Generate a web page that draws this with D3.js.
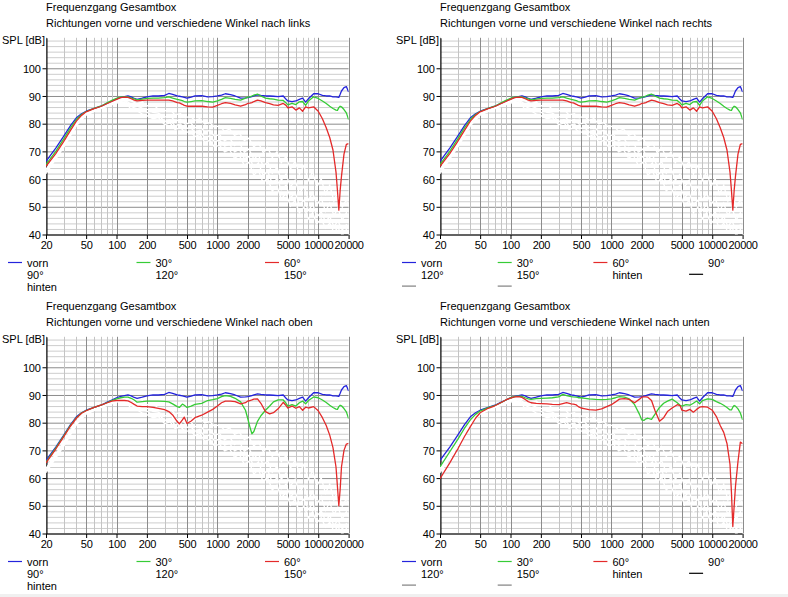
<!DOCTYPE html>
<html>
<head>
<meta charset="utf-8">
<script src="https://d3js.org/d3.v7.min.js"></script>
<style>
    body { margin: 0; background: #fff; }
    svg { display: block; }
    text { font-family: "Liberation Sans", Arial, sans-serif; font-size: 11px; fill: #000; }
    .tick text { letter-spacing: -0.3px; }
</style>
</head>
<body>
<svg id="chart"></svg>
<script>
var W = 788, H = 597;

// frequency points of the coloured curves (Hz)
var freq = [20,25,30,35,40,45,50,60,70,80,90,100,110,120,130,140,150,160,180,200,
    230,260,300,330,360,400,420,450,470,500,550,600,700,800,900,1000,1100,1200,1350,1500,
    1700,1900,2000,2100,2200,2300,2500,2700,3000,3300,3600,4000,4500,4800,5000,5500,6000,6500,7000,7500,
    8000,9000,10000,11000,12000,13000,14000,15000,15500,16000,16500,17000,18000,19000,20000];

// SPL in dB
var vorn = [66.4,71.2,75.5,79.3,82.1,83.6,84.5,85.5,86.3,87.3,88.2,89,89.5,89.8,90,89.7,89.1,88.8,89.2,89.7,
    90,90,90.2,90.9,90.6,90,89.9,89.7,89.5,89.2,89.6,90,90.1,89.7,89.8,90,90.3,90.8,90.5,90,
    89.2,89.3,89.4,89.6,89.8,90,90.4,90.2,90,90,89.9,89.8,90,88.8,88.2,88,88.2,88.8,89.2,87.8,
    89,90.8,90.8,90.2,90,90,89.7,89.7,89.6,89.5,90.6,91.8,93,93.4,91.4];

var links30 = [65.2,70,74.5,78.5,81.5,83.3,84.4,85.5,86.3,87.4,88.4,89.1,89.6,89.7,89.7,89.2,89,88.6,88.9,89.1,
    89.2,89.2,89.4,89.7,89.2,88.8,88.6,88.3,88,87.8,88,88.2,88.3,88,87.8,88.2,88.8,89.4,89.1,88.8,
    88.5,89.2,89.6,89.7,90,90.3,90.7,90,89.2,89,88.9,88.5,88.4,87.5,86.8,87.3,86.9,87.9,88,86.6,
    88.2,89.7,89.1,88.2,87.3,86.3,85.5,84.9,84.8,85.8,86.3,86.1,85.1,83.9,81.5];
var links60 = [64.6,69.2,73.6,77.6,80.9,83,84.3,85.4,86.2,87.2,88,88.8,89.4,89.6,89.5,89,88.5,88.2,88.4,88.5,
    88.5,88.5,88.5,88.5,88.2,87.6,87.5,87,86.6,86.3,86.3,86.3,86.3,86.1,86,86.6,87.2,87.6,87.3,86.8,
    86.3,86.9,87.3,87.4,87.6,88,88.5,88.2,87.6,87.2,86.8,86.6,87.3,86.6,85.7,86.1,84.9,85.7,84.5,86.1,
    85.7,86.1,84.5,81.8,78.5,75,70.5,62.5,56,48.8,56,61,69,72.5,72.8];

var oben30 = [65.8,70.8,75.2,79,81.8,83.5,84.4,85.5,86.3,87.2,88,88.6,89,89.2,89.2,88.8,88.2,87.4,87.6,87.8,
    87.8,87.8,87.7,87.5,86.8,85.8,85.5,86.7,86.3,85.5,86,86.6,87,88,88.3,88.7,89.4,89.8,89.5,88.8,
    87.5,84.5,81.5,78.5,76,76.8,80.5,82.5,84.5,86,87.5,88.2,88.2,87,86,86.5,86,87.2,87.8,86.8,
    88,89.3,89,88.2,87.3,86.3,85.5,84.9,84.8,85.8,86.3,86.1,85.1,83.9,81.5];
var oben60 = [65.5,70.5,75,78.8,81.6,83.4,84.3,85.5,86.3,87.1,87.8,88,88,88,87.9,87.3,86.6,86,85.8,85.8,
    85.5,85.2,84.7,84,82.8,80.4,79.6,81,82,79.7,80.6,81.8,82.7,83.8,84.8,86,87.2,87.8,87.8,87.6,
    86.8,87.2,87.8,88,88.2,88.5,88.6,87,84,83.2,83.6,85,87.3,86.2,85.3,86,85.2,85.8,84.5,85.6,
    85.3,85.8,84.3,81.8,79,75.5,71,64,57,50,56,64,70,72.3,72.5];

var unten30 = [64,69.5,74,78,81,83,84.2,85.4,86.2,87.2,88.2,89,89.4,89.6,89.5,89,88.6,88.4,88.7,88.8,
    88.9,89,89.3,90.2,89.8,89.4,89.3,89.2,89,89,88.8,88.6,88.4,88.3,88.4,88.6,89,89.4,89.2,88.6,
    86.5,83,81,80.8,81.4,81.6,81.2,83,85.5,87,87.8,88.5,87.2,86.3,86,86.5,86.3,87,87.8,86.8,
    88,88.6,88.4,87.6,87,86.3,85.5,84.6,84.6,85.6,86.2,86,85,83.5,81];
var unten60 = [59.8,65.5,70.5,75,78.6,81.6,83.6,85.2,86.1,87.2,88.2,88.9,89.3,89.4,89.1,88.4,87.6,87.2,87,86.9,
    86.8,86.6,86.5,86.9,87.2,86.8,86.7,86.4,85.8,85.3,85,84.7,84.5,85,85.8,86.5,87.5,88.5,88.7,88.4,
    87.2,88.5,89.2,89.3,89.3,89.2,88,84.5,80.5,81.8,84,85.3,86.5,86.2,84.5,84.2,84.8,83.8,84.8,85.6,
    85.8,85.6,84.5,82.2,79,76.5,72.5,65,55,42.5,50,57,66,73,72.4];

// the 90°, 120°, 150° and "hinten" curves are drawn in white in the original
var freqW = [20,30,40,50,70,100,120,140,160,180,200,230,260,300,340,380,430,480,540,600,
    670,750,840,940,1050,1180,1320,1480,1650,1850,2050,2300,2550,2850,3150,3500,3900,4300,4800,5300,
    5900,6500,7200,8000,8800,9700,10700,11800,13000,14300,15700,17300,19000,20000];
var w90 = [63.5,73,80.5,84,86,88.3,89,88.2,87.2,87.8,86.4,86.9,85.2,84.6,85.1,83.2,83.6,82.1,82.7,81.2,
    81.8,79.9,80.4,78.6,79.3,77.2,78.1,75.8,76.6,73.9,74.8,71.6,73.2,69.5,71.4,67.8,69.9,65.9,68.2,63.6,
    66.4,61.8,64.9,59.5,62.8,57.2,60.1,54.6,57.8,52.1,55.4,49.8,52.6,50.2];
var w120 = [63,72.5,80,83.7,85.8,88,88.6,87,86.3,85.6,85.2,84.1,83.8,82.4,83,80.9,81.5,79.8,80.4,78.5,
    79.2,76.9,77.6,75.4,76.1,73.8,74.9,72.1,73.2,69.7,70.9,67.2,68.8,64.6,66.3,62.1,64.2,59.5,61.8,57.1,
    59.6,54.8,57.3,52.4,55.1,50.6,53.2,48.4,51.3,46.8,49.5,45.2,47.9,46];
var w150 = [62.5,72,79.6,83.4,85.6,87.7,88.2,86.1,85.4,84.9,84.2,82.6,83.1,80.8,81.4,79.2,79.9,78.1,78.7,76.9,
    77.6,74.8,75.6,73.4,74.1,71.9,72.6,69.8,70.7,67.4,68.2,64.2,65.8,61.3,62.9,58.4,60.1,56.2,57.8,53.1,
    55.2,50.6,52.4,48.7,50.9,46.3,48.2,44.6,46.5,42.9,44.8,41.6,43.5,42.8];
var wHinten = [62,71.5,79.2,83.1,85.4,87.4,87.8,85.2,84.6,83.5,82.9,81.8,82.2,79.6,80.3,77.9,78.6,76.8,77.2,75.3,
    76.1,73.2,74,71.5,72.3,69.8,70.6,67.5,68.6,64.9,66.1,61.4,63.2,58.6,60.3,55.7,57.4,52.8,54.9,50.2,
    52.3,47.8,49.9,45.6,47.8,43.9,45.7,42.3,44.1,40.8,42.5,39.6,41.8,40.5];

var xTicks = [20,50,100,200,500,1000,2000,5000,10000,20000];
var yTicks = [40,50,60,70,80,90,100];
var yGrid = d3.range(40, 111, 2);

var title = "Frequenzgang Gesamtbox";
var subtitles = [
    "Richtungen vorne und verschiedene Winkel nach links",
    "Richtungen vorne und verschiedene Winkel nach rechts",
    "Richtungen vorne und verschiedene Winkel nach oben",
    "Richtungen vorne und verschiedene Winkel nach unten"
];
var names = ["vorn", "30\u00b0", "60\u00b0", "90\u00b0", "120\u00b0", "150\u00b0", "hinten"];
var colors = ["#2424dc", "#36cc36", "#e42a2a", "#fff", "#fff", "#fff", "#fff"];
var extraNames = ["", "", ""];
var extraColors = ["#000", "#808080", "#808080"];

var panels = [
    { x: 0,   y: 0,   sub: subtitles[0], c30: links30, c60: links60, cols: 3, step: 128.5, extra: false },
    { x: 394, y: 0,   sub: subtitles[1], c30: links30, c60: links60, cols: 4, step: 95.7,  extra: true },
    { x: 0,   y: 299, sub: subtitles[2], c30: oben30,  c60: oben60,  cols: 3, step: 128.5, extra: false },
    { x: 394, y: 299, sub: subtitles[3], c30: unten30, c60: unten60, cols: 4, step: 95.7,  extra: true }
];

var svg = d3.select("#chart").attr("width", W).attr("height", H);
svg.append("rect").attr("x", 0).attr("y", 594).attr("width", W).attr("height", 3).attr("fill", "#f0f0f0");

var x = d3.scaleLog().domain([20, 20000]).range([46, 348.6]);
var y = d3.scaleLinear().domain([40, 111]).range([234.5, 37.8]);

function curve(fs) {
    return d3.line()
        .x(function(d, i) { return x(fs[i]); })
        .y(function(d) { return y(d); });
}

panels.forEach(function(p, k) {
    var g = svg.append("g").attr("transform", "translate(" + p.x + "," + p.y + ")");

    g.append("clipPath").attr("id", "clip" + k)
        .append("rect").attr("x", x(20)).attr("y", y(111))
        .attr("width", x(20000) - x(20)).attr("height", y(40) - y(111));

    // grid
    var grid = g.append("g");
    grid.selectAll(".hy").data(yGrid).enter().append("line")
        .attr("x1", x(20)).attr("x2", x(20000))
        .attr("y1", function(d) { return y(d) + 0.5; }).attr("y2", function(d) { return y(d) + 0.5; })
        .attr("stroke", function(d) { return yTicks.indexOf(d) >= 0 ? "#8c8c8c" : "#cdcdcd"; })
        .attr("stroke-width", 1);
    grid.selectAll(".vx").data(x.ticks()).enter().append("line")
        .attr("x1", function(d) { return Math.round(x(d)) + 0.5; })
        .attr("x2", function(d) { return Math.round(x(d)) + 0.5; })
        .attr("y1", y(111)).attr("y2", y(40))
        .attr("stroke", function(d) { return xTicks.indexOf(d) >= 0 ? "#8c8c8c" : "#c4c4c4"; })
        .attr("stroke-width", 1);

    // axes
    var ya = g.append("g").attr("transform", "translate(46.5,0)")
        .call(d3.axisLeft(y).tickValues(yTicks).tickSize(4).tickSizeOuter(0).tickPadding(2));
    var xa = g.append("g").attr("transform", "translate(0," + (y(40) + 0.5) + ")")
        .call(d3.axisBottom(x).tickValues(xTicks).tickFormat(d3.format("d"))
            .tickSize(4).tickSizeOuter(0).tickPadding(2));
    xa.select(".domain").attr("d", "M" + x(20) + ",0H" + x(20000));
    [ya, xa].forEach(function(a) {
        a.selectAll("line, path").attr("stroke", "#000");
    });
    ya.selectAll("text").attr("dy", "0.38em");

    // white curves
    var wg = g.append("g").attr("clip-path", "url(#clip" + k + ")");
    [w90, w120, w150, wHinten].forEach(function(s) {
        wg.append("path").attr("d", curve(freqW)(s))
            .attr("fill", "none").attr("stroke", "#fff").attr("stroke-width", 1.3);
    });

    // coloured curves
    var cg = g.append("g").attr("clip-path", "url(#clip" + k + ")");
    [vorn, p.c30, p.c60].forEach(function(s, i) {
        cg.append("path").attr("d", curve(freq)(s))
            .attr("fill", "none").attr("stroke", colors[i]).attr("stroke-width", 1.3)
            .attr("stroke-linejoin", "round");
    });

    // titles
    g.append("text").attr("x", 46).attr("y", 10.5).text(title);
    g.append("text").attr("x", 46).attr("y", 27).text(p.sub);
    g.append("text").attr("x", 2).attr("y", 44).text("SPL [dB]");

    // legend
    var ln = names.slice(), lc = colors.slice();
    if (p.extra) { ln = ln.concat(extraNames); lc = lc.concat(extraColors); }
    var lg = g.append("g");
    ln.forEach(function(name, i) {
        var col = i % p.cols, row = Math.floor(i / p.cols);
        var lx = 8 + col * p.step, ly = 262.5 + row * 11.8;
        lg.append("line").attr("x1", lx).attr("x2", lx + 14)
            .attr("y1", ly).attr("y2", ly)
            .attr("stroke", lc[i]).attr("stroke-width", 1.2);
        lg.append("text").attr("x", lx + 19).attr("y", ly + 4.6).text(name);
    });
});
</script>
</body>
</html>
